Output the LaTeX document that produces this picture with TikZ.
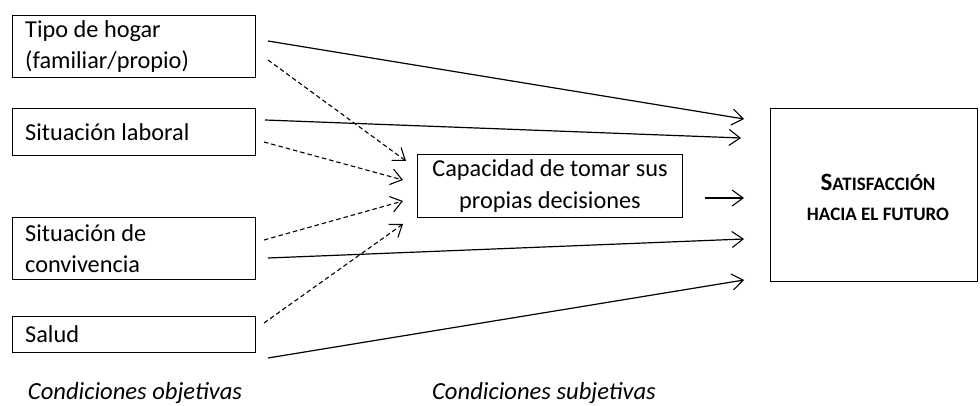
\documentclass[tikz,border=0pt]{standalone}
\usepackage{fontspec}
\setmainfont{Carlito}
\usetikzlibrary{arrows.meta}
\begin{document}
\begin{tikzpicture}[x=1pt,y=-1pt,
  box/.style={draw, line width=1.4pt, rectangle, inner sep=0pt},
  lbl/.style={anchor=west, align=left, inner sep=0pt, font=\fontsize{24.3}{31}\selectfont},
  solidarr/.style={line width=1.2pt, -{Straight Barb[length=11pt,width=16pt,line width=1.1pt]}},
  dasharr/.style={line width=1.1pt, dash pattern=on 4.5pt off 3pt, -{Straight Barb[length=11pt,width=16pt,line width=1.1pt]}}]
\useasboundingbox (0,0) rectangle (980,406);
% left boxes
\node[box, minimum width=243pt, minimum height=62pt, anchor=north west] (b1) at (12,15) {};
\node[lbl] (t1) at (25,47) {Tipo de hogar\\(familiar/propio)};
\node[box, minimum width=243pt, minimum height=47pt, anchor=north west] (b2) at (12,108) {};
\node[lbl] (t2) at (25,132) {Situación laboral};
\node[box, minimum width=243pt, minimum height=62pt, anchor=north west] (b3) at (12,217) {};
\node[lbl] (t3) at (25,249) {Situación de\\convivencia};
\node[box, minimum width=243pt, minimum height=36pt, anchor=north west] (b4) at (12,316) {};
\node[lbl] (t4) at (25,334) {Salud};
% middle box
\node[box, minimum width=265pt, minimum height=63pt, anchor=north west] (m) at (417,154) {};
\node[inner sep=0pt, align=center, font=\fontsize{24.3}{32}\selectfont] (mt) at (550,186) {Capacidad de tomar sus\\propias decisiones};
% right box
\node[box, minimum width=207pt, minimum height=173pt, anchor=north west] (r) at (770,108) {};
\node[inner sep=0pt, align=center, font=\bfseries\fontsize{19}{30}\selectfont] (rt) at (878,197) {{\fontsize{25}{30}\selectfont S}ATISFACCIÓN\\HACIA EL FUTURO};
% coordinates
\coordinate (s1) at (268,41);
\coordinate (e1) at (744,119);
\coordinate (s2) at (265,120);
\coordinate (e2) at (741,138);
\coordinate (sm) at (705,198);
\coordinate (em) at (744,198);
\coordinate (s3) at (268,258);
\coordinate (e3) at (744,239);
\coordinate (s4) at (268,358);
\coordinate (e4) at (744,280);
\coordinate (d1s) at (268,60);
\coordinate (d1e) at (406,161);
\coordinate (d2s) at (264,142);
\coordinate (d2e) at (403,180);
\coordinate (d3s) at (264,240);
\coordinate (d3e) at (403,201);
\coordinate (d4s) at (264,323);
\coordinate (d4e) at (403,224);
% arrows
\draw[solidarr] (s1) -- (e1);
\draw[solidarr] (s2) -- (e2);
\draw[solidarr] (sm) -- (em);
\draw[solidarr] (s3) -- (e3);
\draw[solidarr] (s4) -- (e4);
\draw[dasharr] (d1s) -- (d1e);
\draw[dasharr] (d2s) -- (d2e);
\draw[dasharr] (d3s) -- (d3e);
\draw[dasharr] (d4s) -- (d4e);
% captions
\node[inner sep=0pt, font=\itshape\fontsize{24.6}{28}\selectfont] (c1) at (135,393) {Condiciones objetivas};
\node[inner sep=0pt, font=\itshape\fontsize{24.6}{28}\selectfont] (c2) at (544,393) {Condiciones subjetivas};
\end{tikzpicture}
\end{document}
